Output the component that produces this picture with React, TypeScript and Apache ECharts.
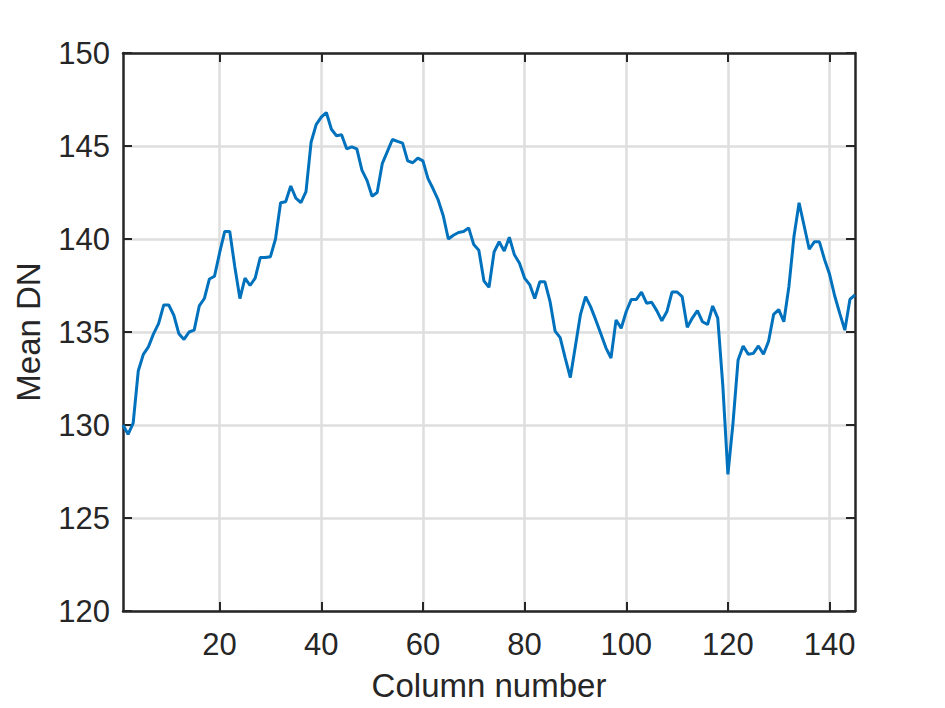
import React, { useEffect, useRef } from "react";
import * as echarts from "echarts";

const meanDN: number[] = [
  130.0, 129.5, 130.1, 132.9, 133.8, 134.2, 134.9, 135.45, 136.45, 136.45,
  135.9, 134.9, 134.6, 135.0, 135.1, 136.4, 136.8, 137.85, 138.0, 139.25,
  140.4, 140.4, 138.5, 136.8, 137.9, 137.5, 137.9, 139.0, 139.0, 139.05,
  140.0, 141.95, 142.0, 142.85, 142.2, 141.95, 142.55, 145.2, 146.15, 146.55,
  146.8, 145.9, 145.55, 145.6, 144.85, 144.95, 144.85, 143.7, 143.15, 142.3,
  142.5, 144.05, 144.7, 145.35, 145.25, 145.15, 144.2, 144.1, 144.35, 144.2,
  143.25, 142.7, 142.1, 141.25, 140.0, 140.2, 140.35, 140.4, 140.6, 139.7,
  139.4, 137.75, 137.4, 139.3, 139.85, 139.35, 140.1, 139.15, 138.7, 137.9,
  137.55, 136.8, 137.7, 137.7, 136.65, 135.05, 134.7, 133.6, 132.55, 134.25,
  135.95, 136.9, 136.35, 135.65, 134.9, 134.15, 133.6, 135.65, 135.2, 136.1,
  136.75, 136.75, 137.15, 136.55, 136.6, 136.15, 135.6, 136.1, 137.15, 137.15,
  136.9, 135.25, 135.75, 136.15, 135.55, 135.4, 136.4, 135.75, 132.1, 127.35,
  130.1, 133.5, 134.25, 133.8, 133.85, 134.25, 133.8, 134.5, 135.95, 136.2,
  135.55, 137.45, 140.15, 141.95, 140.7, 139.45, 139.85, 139.85, 138.9, 138.1,
  136.95, 136.0, 135.1, 136.75, 137.0,
];

const firstColumn = 1;
const lastColumn = 145;
const xTicks: number[] = [20, 40, 60, 80, 100, 120, 140];
const yMin = 120;
const yMax = 150;
const yStep = 5;

const xTitle = "Column number";
const yTitle = "Mean DN";

const FONT = "'Liberation Sans', Arial, Helvetica, sans-serif";
const INK = "#262626";
const GRID = "#dedede";
const LINE = "#0072BD";

export default function App() {
  const ref = useRef<HTMLDivElement>(null);

  useEffect(() => {
    document.body.style.margin = "0";
    if (!ref.current) return;
    const chart = echarts.init(ref.current, null, { renderer: "svg" });

    const seriesData = meanDN.map((v, i) => [firstColumn + i, v]);

    const tickStyle = { show: true, inside: true, length: 9, lineStyle: { color: INK, width: 2 } };
    const axisLineStyle = { show: true, onZero: false, lineStyle: { color: INK, width: 2.5 } };

    chart.setOption({
      animation: false,
      backgroundColor: "#ffffff",
      grid: { left: 123, top: 53, width: 732, height: 558, containLabel: false },
      xAxis: [
        {
          type: "value",
          min: firstColumn,
          max: lastColumn,
          position: "bottom",
          axisLine: axisLineStyle,
          axisTick: { ...tickStyle, customValues: xTicks },
          axisLabel: {
            customValues: xTicks,
            color: INK,
            fontFamily: FONT,
            fontSize: 31,
            margin: 18,
          },
          splitLine: { show: true, lineStyle: { color: GRID, width: 2.5 } },
          name: xTitle,
          nameLocation: "middle",
          nameGap: 58,
          nameTextStyle: { color: INK, fontFamily: FONT, fontSize: 33 },
        },
        {
          type: "value",
          min: firstColumn,
          max: lastColumn,
          position: "top",
          axisLine: axisLineStyle,
          axisTick: { ...tickStyle, customValues: xTicks },
          axisLabel: { show: false, customValues: xTicks },
          splitLine: { show: false },
        },
      ],
      yAxis: [
        {
          type: "value",
          min: yMin,
          max: yMax,
          interval: yStep,
          position: "left",
          axisLine: axisLineStyle,
          axisTick: tickStyle,
          axisLabel: {
            color: INK,
            fontFamily: FONT,
            fontSize: 31,
            margin: 13,
          },
          splitLine: { show: true, lineStyle: { color: GRID, width: 2.5 } },
          name: yTitle,
          nameLocation: "middle",
          nameGap: 78,
          nameTextStyle: { color: INK, fontFamily: FONT, fontSize: 33 },
        },
        {
          type: "value",
          min: yMin,
          max: yMax,
          interval: yStep,
          position: "right",
          axisLine: axisLineStyle,
          axisTick: tickStyle,
          axisLabel: { show: false },
          splitLine: { show: false },
        },
      ],
      series: [
        {
          type: "line",
          xAxisIndex: 0,
          yAxisIndex: 0,
          data: seriesData,
          showSymbol: false,
          symbol: "none",
          lineStyle: { color: LINE, width: 3 },
          z: 3,
        },
      ],
    });

    return () => chart.dispose();
  }, []);

  return <div ref={ref} style={{ width: 945, height: 708, background: "#fff" }} />;
}
